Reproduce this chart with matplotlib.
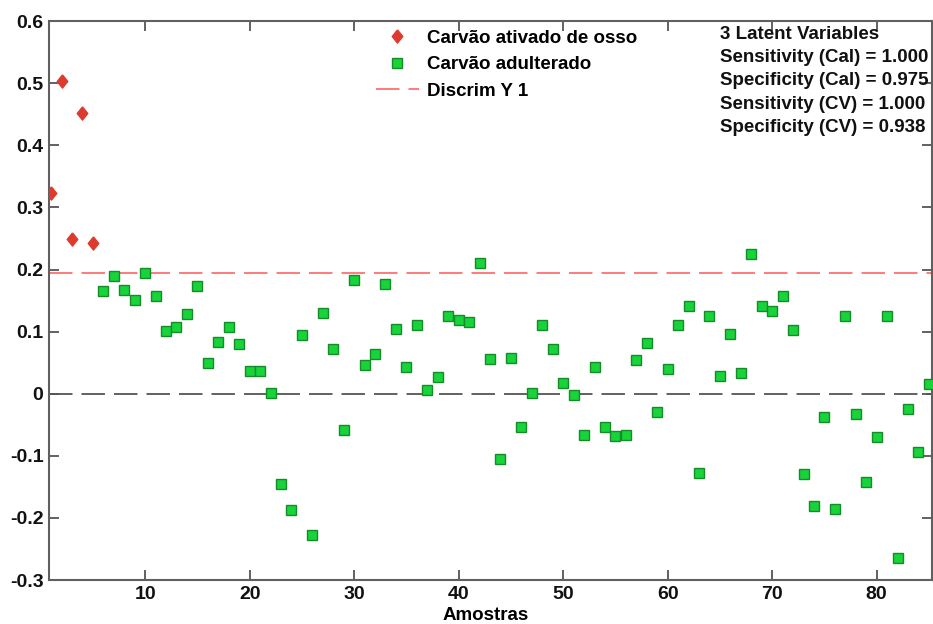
import numpy as np
import matplotlib
matplotlib.use('Agg')
import matplotlib.pyplot as plt
from matplotlib.lines import Line2D

plt.rcParams['font.family'] = ['Liberation Sans', 'DejaVu Sans']
plt.rcParams['font.weight'] = 'bold'

# class 1: activated bone charcoal (samples 1-5)
osso_idx = np.arange(1, 6)
osso_y = [0.324, 0.503, 0.249, 0.452, 0.243]

# class 2: adulterated charcoal (samples 6-85)
adult_idx = np.arange(6, 86)
adult_y = [0.166, 0.190, 0.167, 0.151, 0.194, 0.157, 0.101, 0.108, 0.129, 0.174,
           0.050, 0.084, 0.107, 0.080, 0.037, 0.037, 0.001, -0.145, -0.188, 0.094,
           -0.228, 0.130, 0.072, -0.058, 0.184, 0.047, 0.064, 0.176, 0.105, 0.043,
           0.110, 0.006, 0.027, 0.125, 0.119, 0.115, 0.210, 0.056, -0.105, 0.058,
           -0.053, 0.002, 0.111, 0.072, 0.018, -0.002, -0.066, 0.043, -0.054, -0.068,
           -0.066, 0.055, 0.082, -0.030, 0.040, 0.111, 0.142, -0.127, 0.125, 0.029,
           0.097, 0.033, 0.225, 0.142, 0.134, 0.157, 0.103, -0.130, -0.181, -0.037,
           -0.185, 0.125, -0.033, -0.142, -0.070, 0.125, -0.265, -0.024, -0.094, 0.016]

discrim = 0.194
stats_text = ['3 Latent Variables',
              'Sensitivity (Cal) = 1.000',
              'Specificity (Cal) = 0.975',
              'Sensitivity (CV) = 1.000',
              'Specificity (CV) = 0.938']

# diamond a bit narrower than tall, like the original software
diamond = [(0, 1), (0.8, 0), (0, -1), (-0.8, 0), (0, 1)]

fig = plt.figure(figsize=(9.33, 6.24), dpi=100)
ax = fig.add_axes([0.0525, 0.0705, 0.9465, 0.8955])

ax.axhline(0, color='#555555', lw=1.3, dashes=(13, 5), zorder=1)
ax.axhline(discrim, color='#ff7070', lw=1.3, dashes=(13, 5), zorder=1)

ax.plot(osso_idx, osso_y, ls='none', marker=diamond, ms=9.5, color='#dd3b2e',
        mec='#dd3b2e', zorder=3)
ax.plot(adult_idx, adult_y, ls='none', marker='s', ms=7.8, mfc='#16d43a',
        mec='#178a2a', mew=1.0, zorder=3)

ax.set_xlim(0.8, 85.3)
ax.set_ylim(-0.3, 0.6)
ax.set_xticks([10, 20, 30, 40, 50, 60, 70, 80])
ax.set_yticks(np.arange(-0.3, 0.61, 0.1))
ax.set_yticklabels(['-0.3', '-0.2', '-0.1', '0', '0.1', '0.2', '0.3', '0.4', '0.5', '0.6'])
ax.tick_params(direction='in', length=7, width=1.3, top=True, right=True,
               labelsize=14, colors='#555555', labelcolor='#111111', pad=4)
for s in ax.spines.values():
    s.set_color('#606060')
    s.set_linewidth(1.5)

ax.set_xlabel('Amostras', fontsize=13.5, fontweight='bold')
ax.xaxis.set_label_coords(0.495, -0.049)

handles = [
    Line2D([], [], ls='none', marker=diamond, ms=9.5, color='#dd3b2e'),
    Line2D([], [], ls='none', marker='s', ms=7.8, mfc='#16d43a', mec='#178a2a'),
    Line2D([], [], color='#ff7070', lw=1.3, dashes=(13, 5)),
]
labels = ['Carvão ativado de osso', 'Carvão adulterado', 'Discrim Y 1']
ax.legend(handles, labels, loc='upper left', bbox_to_anchor=(0.355, 1.008),
          frameon=False, fontsize=13.5, handlelength=2.3, handletextpad=0.45,
          labelspacing=0.5, borderpad=0.2)

for i, line in enumerate(stats_text):
    fig.text(720 / 933, 1 - (34.5 + 23.2 * i) / 624, line, fontsize=13.5, fontweight='bold',
             ha='left', va='center', color='#111111')

fig.savefig('out.png', dpi=100)
